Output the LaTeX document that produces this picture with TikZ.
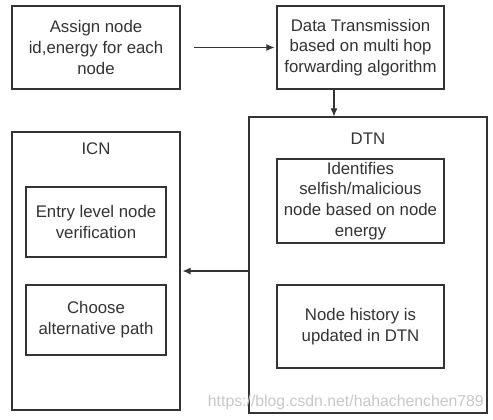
\documentclass[tikz,border=0pt]{standalone}
\usepackage{fontspec}
\setmainfont{Liberation Sans}
\usetikzlibrary{positioning,arrows.meta}

\begin{document}
\begin{tikzpicture}[
  x=1pt, y=-1pt,
  font=\fontsize{16.8}{20.7}\selectfont,
  box/.style={draw=black!80, line width=1.1pt, fill=white, align=center, text=black!80, inner sep=2pt},
  frame/.style={draw=black!80, line width=1.1pt},
  title/.style={text=black!80, inner sep=1pt},
  arr/.style={-{Latex[length=8pt,width=7pt]}, black!80, line width=1.2pt},
  wmark/.style={font=\fontsize{15.8}{18}\selectfont, text=black!22, inner sep=0pt},
]
\useasboundingbox (0,0) rectangle (493,420);

% ---------------- top row ----------------
\node[box, minimum width=168pt, minimum height=83pt] (assign) at (96,47.5) {Assign node\\id,energy for each\\node};
\node[box, minimum width=167pt, minimum height=83pt] (datatx) at (360.5,47.5) {Data Transmission\\based on multi hop\\forwarding algorithm};

% ---------------- DTN frame ----------------
\node[frame, minimum width=238pt, minimum height=296pt] (dtn) at (368,265) {};
\node[title] (dtntitle) at (368,139) {DTN};
\node[box, minimum width=167pt, minimum height=84pt] (ident) at (360.5,201) {Identifies\\selfish/malicious\\node based on node\\energy};
\node[box, minimum width=167pt, minimum height=83pt] (history) at (360.5,326.5) {Node history is\\updated in DTN};

% ---------------- ICN frame ----------------
\node[frame, minimum width=168pt, minimum height=278pt] (icn) at (96,271) {};
\node[title] (icntitle) at (96,149) {ICN};
\node[box, minimum width=140pt, minimum height=70pt] (entry) at (96,222) {Entry level node\\verification};
\node[box, minimum width=140pt, minimum height=70pt] (choose) at (96,320) {Choose\\alternative path};

% ---------------- arrows ----------------
\draw[arr, shorten <=13pt, shorten >=2pt] (assign) -- (datatx);
\draw[arr] ([xshift=-26.5pt]datatx.south) -- ([xshift=-34pt]dtn.north);
\draw[arr, shorten >=2pt] (dtn.west |- icn.east) -- (icn.east);

% ---------------- watermark ----------------
\node[wmark, anchor=east] (watermark) at (484,402) {https://blog.csdn.net/hahachenchen789};

\end{tikzpicture}
\end{document}
